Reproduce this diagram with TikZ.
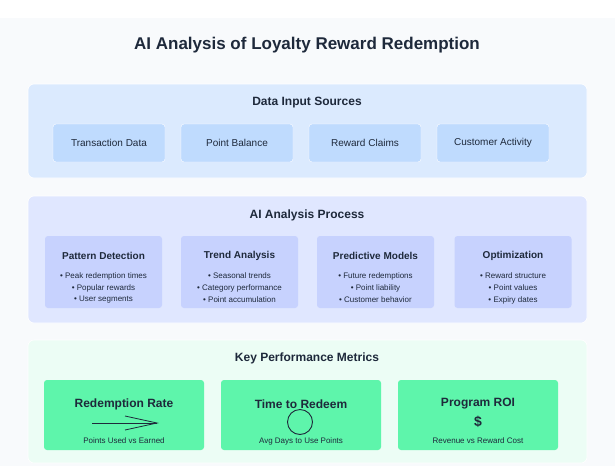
\documentclass[tikz,border=0pt]{standalone}
\usepackage{fontspec}
\setmainfont{Liberation Sans}
\definecolor{bgpage}{HTML}{F8FAFC}
\definecolor{inkdark}{HTML}{1E293B}
\definecolor{srcpanel}{HTML}{DBEAFE}
\definecolor{srcbox}{HTML}{BFDBFE}
\definecolor{procpanel}{HTML}{E0E7FF}
\definecolor{procbox}{HTML}{C7D2FE}
\definecolor{kpipanel}{HTML}{ECFDF5}
\definecolor{kpibox}{HTML}{5EF5AB}
\begin{document}
\begin{tikzpicture}[x=1pt,y=-1pt]
  \tikzstyle{panel} = [rounded corners=6pt, draw=white, line width=0.6pt]
  \tikzstyle{source} = [rectangle, rounded corners=3pt, draw=white, fill=srcbox, minimum width=112pt, minimum height=38pt, font=\fontsize{10}{12}\selectfont, text=inkdark]
  \tikzstyle{process} = [rectangle, rounded corners=3pt, fill=procbox, minimum width=117pt, minimum height=72pt]
  \tikzstyle{metric} = [rectangle, rounded corners=3pt, fill=kpibox, minimum width=160pt, minimum height=70pt]
  \tikzstyle{heading} = [font=\bfseries\fontsize{12}{14}\selectfont, text=inkdark]
  \tikzstyle{item} = [font=\fontsize{8}{10}\selectfont, text=inkdark, inner sep=0pt]

  \useasboundingbox (0,0) rectangle (615,466);
  \fill[white] (0,0) rectangle (615,466);
  \fill[bgpage] (0,18) rectangle (615,466);

  \node[font=\bfseries\fontsize{17}{20}\selectfont, text=inkdark] (title) at (307,45) {AI Analysis of Loyalty Reward Redemption};

  % data input sources
  \filldraw[panel, fill=srcpanel] (28,84) rectangle (587,178);
  \node[heading] (srchead) at (307,103) {Data Input Sources};
  \node (src1) [source] at (109,143) {Transaction Data};
  \node (src2) [source] at (237,143) {Point Balance};
  \node (src3) [source] at (365,143) {Reward Claims};
  \node (src4) [source] at (493,143) {Customer Activity};

  % analysis process
  \filldraw[panel, fill=procpanel] (28,196) rectangle (587,323);
  \node[heading] (prochead) at (307,215) {AI Analysis Process};
  \foreach \x/\name/\a/\b/\c in {
      103.5/Pattern Detection/Peak redemption times/Popular rewards/User segments,
      239.5/Trend Analysis/Seasonal trends/Category performance/Point accumulation,
      375.5/Predictive Models/Future redemptions/Point liability/Customer behavior,
      513/Optimization/Reward structure/Point values/Expiry dates} {
    \node[process] at (\x,272) {};
    \node[font=\bfseries\fontsize{10}{12}\selectfont, text=inkdark] at (\x,256) {\name};
    \node[item] at (\x,276) {• \a};
    \node[item] at (\x,288) {• \b};
    \node[item] at (\x,300) {• \c};
  }

  % key metrics
  \filldraw[panel, fill=kpipanel] (28,340) rectangle (587,463);
  \node[heading] (kpihead) at (307,358) {Key Performance Metrics};
  \node (kpi1) [metric] at (124,415) {};
  \node (kpi2) [metric] at (301,415) {};
  \node (kpi3) [metric] at (478,415) {};
  \foreach \n/\name/\sub in {kpi1/Redemption Rate/Points Used vs Earned,
      kpi2/Time to Redeem/Avg Days to Use Points,
      kpi3/Program ROI/Revenue vs Reward Cost} {
    \node[font=\bfseries\fontsize{12}{14}\selectfont, text=inkdark] at ([yshift=11pt]\n.center) {\name};
    \node[item] at ([yshift=-26pt]\n.center) {\sub};
  }
  \draw[inkdark, line width=0.8pt] (92,423) -- (157,423);
  \draw[inkdark, line width=0.8pt] (125,416) -- (157,423) -- (125,430);
  \draw[inkdark, line width=0.9pt] (300,422) circle (12.5pt);
  \node[font=\bfseries\fontsize{14}{16}\selectfont, text=inkdark] (dollar) at (478,422) {\$};
\end{tikzpicture}
\end{document}
